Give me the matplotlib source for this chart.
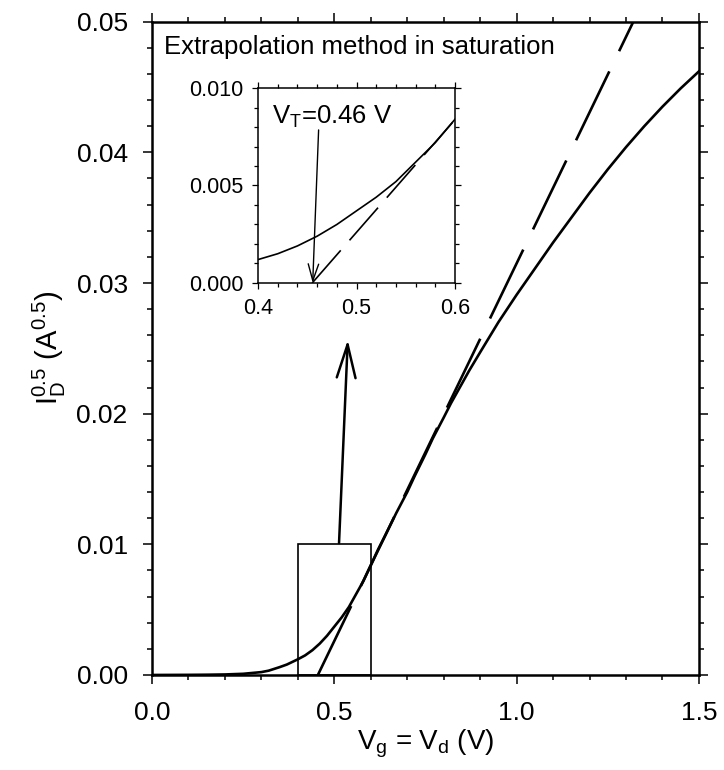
import numpy as np
import matplotlib
matplotlib.use('Agg')
import matplotlib.pyplot as plt
from matplotlib.patches import Rectangle
from matplotlib.ticker import MultipleLocator

plt.rcParams['font.family'] = ['Liberation Sans', 'DejaVu Sans']
plt.rcParams['mathtext.fontset'] = 'custom'
plt.rcParams['mathtext.rm'] = 'Liberation Sans'
plt.rcParams['mathtext.it'] = 'Liberation Sans'
plt.rcParams['mathtext.default'] = 'regular'

# measured sqrt(I_D) vs V_g = V_d
v = [0.0, 0.1, 0.15, 0.2, 0.25, 0.3, 0.32, 0.35, 0.37, 0.4, 0.42, 0.44, 0.46,
     0.48, 0.5, 0.52, 0.54, 0.56, 0.58, 0.6, 0.62, 0.64, 0.67, 0.7, 0.72,
     0.75, 0.77, 0.8, 0.82, 0.85, 0.87, 0.9, 0.95, 1.0, 1.05, 1.1, 1.15, 1.2,
     1.25, 1.3, 1.35, 1.4, 1.45, 1.5]
sqrt_id = [0.0, 0.00001, 0.00002, 0.00004, 0.00009, 0.00022, 0.00033, 0.0006,
           0.0008, 0.0012, 0.0015, 0.0019, 0.0024, 0.0030, 0.0037, 0.0044,
           0.0052, 0.0062, 0.0072, 0.0084, 0.0096, 0.0107, 0.0124, 0.0140,
           0.0152, 0.0169, 0.0181, 0.0197, 0.0208, 0.0223, 0.0233, 0.0247,
           0.0270, 0.0291, 0.0311, 0.0331, 0.0350, 0.0369, 0.0387, 0.0404,
           0.0420, 0.0435, 0.0449, 0.0462]

# linear extrapolation (tangent) line
fit_v = [0.455, 1.32]
fit_i = [0.0, 0.0500]

vt_label = r'V$_T$=0.46 V'
title = 'Extrapolation method in saturation'

fig = plt.figure(figsize=(7.24, 7.7), dpi=100)
ax = fig.add_axes([0.2099, 0.1234, 0.7555, 0.8484])

ax.plot(v, sqrt_id, color='black', lw=1.9)
ax.plot(fit_v, fit_i, color='black', lw=1.9, ls=(0, (29, 8.5)))
ax.add_patch(Rectangle((0.4, 0.0), 0.2, 0.01, fill=False, ec='black', lw=1.2))

ax.set_xlim(0, 1.5)
ax.set_ylim(0, 0.05)
ax.xaxis.set_major_locator(MultipleLocator(0.5))
ax.xaxis.set_minor_locator(MultipleLocator(0.1))
ax.yaxis.set_major_locator(MultipleLocator(0.01))
ax.yaxis.set_minor_locator(MultipleLocator(0.002))
ax.xaxis.set_major_formatter(matplotlib.ticker.FormatStrFormatter('%.1f'))
ax.yaxis.set_major_formatter(matplotlib.ticker.FormatStrFormatter('%.2f'))
ax.tick_params(which='both', direction='out', top=True, right=True,
               labelsize=19, width=1.1)
ax.tick_params(which='major', length=6.5)
ax.tick_params(which='minor', length=3.8)
ax.tick_params(axis='y', pad=11)
ax.tick_params(axis='x', pad=12)
for s in ax.spines.values():
    s.set_linewidth(1.8)

ax.set_xlabel(r'V$_g$ = V$_d$ (V)', fontsize=20, labelpad=2)
ax.set_ylabel(r'I$_D^{0.5}$ (A$^{0.5}$)', fontsize=21, labelpad=6)
ax.text(0.022, 0.961, title, transform=ax.transAxes, fontsize=18.5,
        ha='left', va='center')

ax.annotate('', xy=(0.537, 0.02565), xytext=(0.513, 0.0101),
            arrowprops=dict(arrowstyle='->,head_length=1.6,head_width=0.45',
                            lw=1.8, color='black', mutation_scale=15,
                            shrinkA=0, shrinkB=0))

# inset
ins = fig.add_axes([0.3564, 0.6325, 0.2721, 0.2532])
ins.plot(v, sqrt_id, color='black', lw=1.2)
ins.plot(fit_v, fit_i, color='black', lw=1.2, ls=(0, (26, 8)))
ins.set_xlim(0.4, 0.6)
ins.set_ylim(0, 0.01)
ins.xaxis.set_major_locator(MultipleLocator(0.1))
ins.xaxis.set_minor_locator(MultipleLocator(0.02))
ins.yaxis.set_major_locator(MultipleLocator(0.005))
ins.yaxis.set_minor_locator(MultipleLocator(0.001))
ins.xaxis.set_major_formatter(matplotlib.ticker.FormatStrFormatter('%.1f'))
ins.yaxis.set_major_formatter(matplotlib.ticker.FormatStrFormatter('%.3f'))
ins.tick_params(which='both', direction='out', top=True, right=True,
                labelsize=15.5, width=0.9, pad=6)
ins.tick_params(which='major', length=4.5)
ins.tick_params(which='minor', length=2.8)
for s in ins.spines.values():
    s.set_linewidth(1.1)

ins.text(0.414, 0.0085, vt_label, fontsize=18.5, ha='left', va='center')
ins.annotate('', xy=(0.4555, 0.0), xytext=(0.4615, 0.00785),
             arrowprops=dict(arrowstyle='->,head_length=0.8,head_width=0.25',
                             lw=1.0, color='black', mutation_scale=15,
                             shrinkA=0, shrinkB=0))

fig.savefig('out.png', dpi=100)
